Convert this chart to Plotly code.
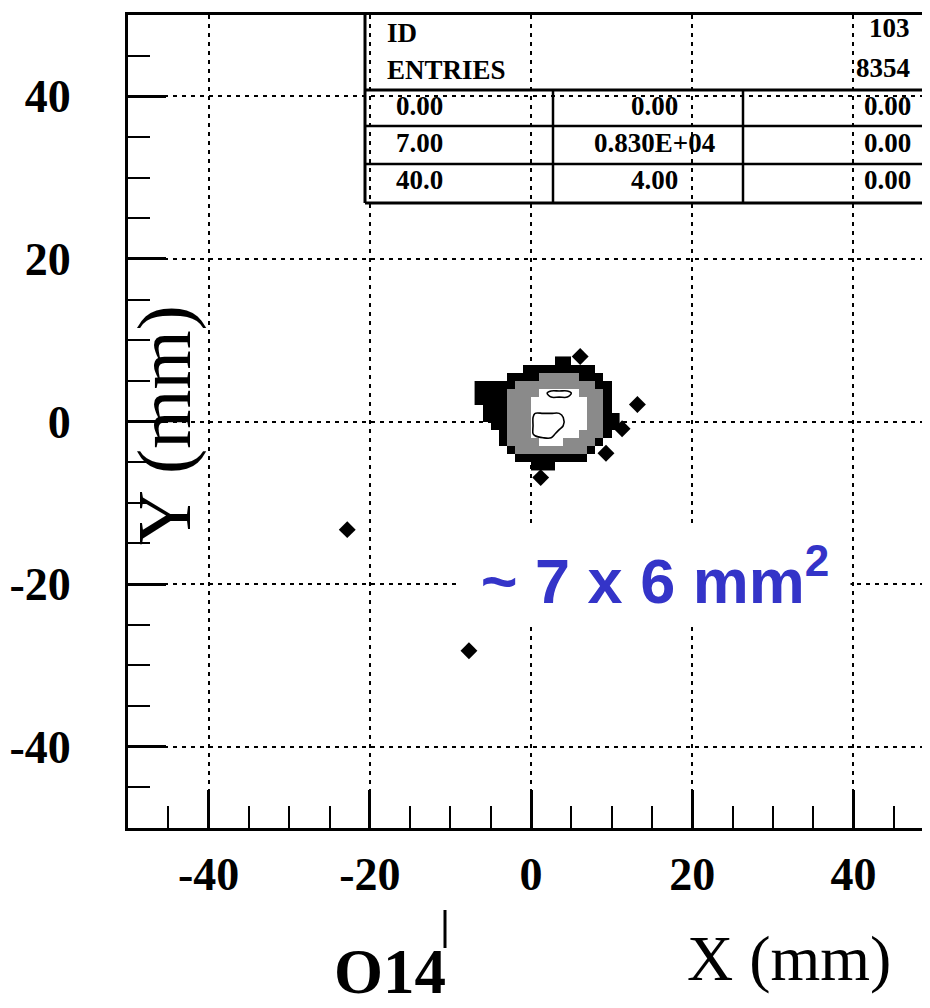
import plotly.graph_objects as go

# ---------------- data ----------------
x_tick_vals = [-40, -20, 0, 20, 40]
y_tick_vals = [-40, -20, 0, 20, 40]
x_range = [-50, 49.5]
y_range = [-50, 50]

# 2-D histogram (1 mm bins), intensity level per bin
# 0 = empty, 1 = low (black), 2 = medium (grey), 3 = high (white), 4 = peak
bin_x_low = list(range(-7, 11))          # lower bin edges in X (mm)
bin_y_low = list(range(7, -7, -1))       # lower bin edges in Y (mm), top row first
levels = [
    [0,0,0,0,0,0,0,0,0,0,1,1,0,0,0,0,0,0],
    [0,0,0,0,0,0,1,1,1,1,1,1,1,1,1,0,0,0],
    [0,0,0,0,1,1,1,1,2,2,2,2,2,1,1,1,0,0],
    [1,1,1,1,1,2,2,2,2,2,2,2,2,2,2,1,1,0],
    [1,1,1,1,2,2,2,2,3,4,4,4,3,2,2,2,1,0],
    [1,1,1,1,2,2,2,3,3,3,3,3,3,3,2,2,1,0],
    [0,1,1,1,2,2,2,3,3,3,3,3,3,3,2,2,1,0],
    [0,1,1,1,2,2,2,4,4,4,4,3,3,3,2,2,1,1],
    [0,0,1,1,2,2,2,4,4,4,4,3,3,3,2,2,1,1],
    [0,0,0,1,2,2,2,4,4,4,3,3,3,2,2,2,1,0],
    [0,0,0,1,2,2,2,2,3,3,3,2,2,2,2,1,0,0],
    [0,0,0,0,1,2,2,2,2,2,2,2,2,2,1,0,0,0],
    [0,0,0,0,0,1,1,1,1,1,1,1,1,1,0,0,0,0],
    [0,0,0,0,0,0,0,1,1,1,0,0,0,0,0,0,0,0],
]

# isolated entries (mm)
iso_x = [-22.8, -7.7, 6.1, 13.2, 11.3, 9.3, 1.2]
iso_y = [-13.3, -28.2, 8.0, 2.1, -0.9, -3.9, -6.9]

stats_header = [("ID", "103"), ("ENTRIES", "8354")]
stats_rows = [("0.00", "0.00", "0.00"),
              ("7.00", "0.830E+04", "0.00"),
              ("40.0", "4.00", "0.00")]

x_title = "X (mm)"
y_title = "Y (mm)"
run_label = "O14"
spot_label = "~ 7 x 6 mm<sup>2</sup>"

# ---------------- layout helpers ----------------
OFF = 8                      # page body margin of the html page
W, H = 930 - OFF, 1008 - OFF
L, R, T, B = 128, 930, 15, 828   # plot area in page pixels
def px(p):
    return (p - L) / (R - L)
def py(p):
    return (B - p) / (B - T)

SERIF = "Liberation Serif, Times New Roman, serif"
GREY = "#8a8a8a"

xc = [b + 0.5 for b in bin_x_low]
yc = [b + 0.5 for b in bin_y_low]
zfill = [[(v if v > 0 else None) for v in row] for row in levels]

fig = go.Figure()
fig.add_trace(go.Heatmap(
    x=xc, y=yc, z=zfill, zmin=0.5, zmax=4.5,
    colorscale=[[0, "black"], [0.25, "black"], [0.25, GREY], [0.5, GREY],
                [0.5, "white"], [1, "white"]],
    showscale=False, hoverinfo="skip"))
fig.add_trace(go.Contour(
    x=xc, y=yc, z=levels, showscale=False, hoverinfo="skip",
    contours=dict(start=3.5, end=3.5, size=1, coloring="none"),
    line=dict(color="black", width=1.6, smoothing=1.0)))
fig.add_trace(go.Scatter(
    x=iso_x, y=iso_y, mode="markers",
    marker=dict(symbol="diamond", size=13, color="black"),
    hoverinfo="skip"))

axis_common = dict(
    automargin=False,
    showline=True, linecolor="black", linewidth=3,
    ticks="inside", ticklen=38, tickwidth=2.5, tickcolor="black",
    showgrid=True, gridcolor="black", gridwidth=2, griddash="4px,5px",
    zeroline=False,
    tickfont=dict(family=SERIF, size=46, color="black", weight="bold"),
    minor=dict(tickmode="linear", tick0=0, dtick=5, ticks="inside",
               ticklen=22, tickwidth=2, tickcolor="black", showgrid=False),
)
fig.update_xaxes(range=x_range, tickmode="array", tickvals=x_tick_vals,
                 ticktext=[str(v) for v in x_tick_vals], mirror=True,
                 ticklabelstandoff=4, **axis_common)
fig.update_yaxes(range=y_range, tickmode="array", tickvals=y_tick_vals,
                 ticktext=[str(v) for v in y_tick_vals],
                 ticklabelstandoff=45, **axis_common)

# ---------------- statistics box ----------------
shapes = []
def hline(y, x0, x1, w=2.5):
    shapes.append(dict(type="line", xref="paper", yref="paper",
                       x0=px(x0), x1=px(x1), y0=py(y), y1=py(y),
                       line=dict(color="black", width=w)))
def vline(x, y0, y1, w=2.5):
    shapes.append(dict(type="line", xref="paper", yref="paper",
                       x0=px(x), x1=px(x), y0=py(y0), y1=py(y1),
                       line=dict(color="black", width=w)))
vline(365, 14, 203, 3)
vline(928, 14, 203, 2)
hline(90, 365, 930, 3)
hline(126, 365, 930)
hline(164, 365, 930)
hline(203, 365, 930, 3)
vline(553, 90, 203)
vline(743, 90, 203)
# scan artefact stroke above the run label
vline(445, 910, 948, 3)

ann = []
def text(t, x, y, anchor="center", size=27, bold=True, color="black", family=SERIF, **kw):
    ann.append(dict(text=t, xref="paper", yref="paper", x=px(x), y=py(y),
                    xanchor=anchor, yanchor="middle", showarrow=False,
                    font=dict(family=family, size=size, color=color,
                              weight="bold" if bold else "normal"), **kw))

text(stats_header[0][0], 385, 33, "left")
text(stats_header[1][0], 385, 70, "left")
text(stats_header[0][1], 912, 28, "right")
text(stats_header[1][1], 912, 68, "right")
row_y = [106, 143, 180]
col_x = [419, 654, 887]
for r, row in enumerate(stats_rows):
    for c, val in enumerate(row):
        text(val, col_x[c], row_y[r])

text(y_title, 164, 425, size=76, bold=False, textangle=-90)
text(x_title, 789, 958, size=64, bold=False)
text(run_label, 390, 972, size=63)
text(spot_label, 655, 576, size=63, color="#3434c8",
     family="Liberation Sans, Arial, sans-serif",
     bgcolor="white", width=388, height=96)

fig.update_layout(
    width=W, height=H,
    margin=dict(l=L - OFF, r=0, t=T - OFF, b=1008 - B, pad=0),
    plot_bgcolor="white", paper_bgcolor="white",
    showlegend=False, shapes=shapes, annotations=ann,
)

fig.write_html("out.html")
